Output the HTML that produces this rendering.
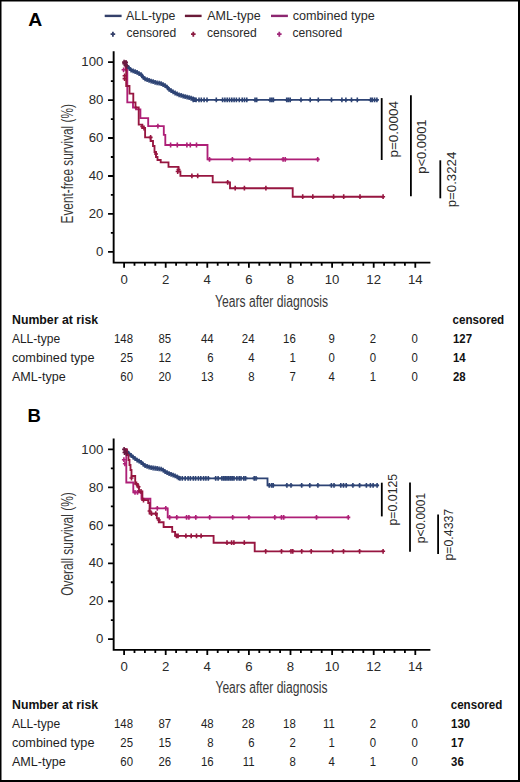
<!DOCTYPE html>
<html><head><meta charset="utf-8"><style>
html,body{margin:0;padding:0;background:#fff;}
body{width:520px;height:782px;overflow:hidden;font-family:"Liberation Sans", sans-serif;}
svg{display:block;}
</style></head><body>
<svg width="520" height="782" viewBox="0 0 520 782" font-family='"Liberation Sans", sans-serif'>
<rect x="0" y="0" width="520" height="782" fill="#fff"/>
<text x="28.2" y="26.4" font-size="18.5" font-weight="bold" fill="#000" textLength="14" lengthAdjust="spacingAndGlyphs">A</text>
<text x="27.6" y="421.9" font-size="18.5" font-weight="bold" fill="#000">B</text>
<path d="M104.7 15.9H121.6" stroke="#34406a" stroke-width="2.4"/>
<path d="M184.9 15.9H201.6" stroke="#6a1a38" stroke-width="2.4"/>
<path d="M271 15.9H287.9" stroke="#8c2670" stroke-width="2.4"/>
<text x="126.1" y="19.5" font-size="12.19" textLength="49.3" lengthAdjust="spacingAndGlyphs" fill="#2a2a2a">ALL-type</text>
<text x="207.2" y="19.5" font-size="12.19" textLength="53.4" lengthAdjust="spacingAndGlyphs" fill="#2a2a2a">AML-type</text>
<text x="292.8" y="19.5" font-size="12.19" textLength="82" lengthAdjust="spacingAndGlyphs" fill="#2a2a2a">combined type</text>
<text x="126.5" y="37.3" font-size="12.42" textLength="49.8" lengthAdjust="spacingAndGlyphs" fill="#2a2a2a">censored</text>
<text x="207" y="37.3" font-size="12.42" textLength="49.8" lengthAdjust="spacingAndGlyphs" fill="#2a2a2a">censored</text>
<text x="292.5" y="37.3" font-size="12.42" textLength="49.8" lengthAdjust="spacingAndGlyphs" fill="#2a2a2a">censored</text>
<path d="M112.9 31.7v5M110.6 34.2h4.6" stroke="#34406a" stroke-width="1.8" fill="none"/>
<path d="M193.3 31.7v5M191 34.2h4.6" stroke="#8a1a40" stroke-width="1.8" fill="none"/>
<path d="M279.3 31.7v5M277 34.2h4.6" stroke="#a0287a" stroke-width="1.8" fill="none"/>
<path d="M113.65 51.2V262.6H430.4" stroke="#000" stroke-width="1.9" fill="none" stroke-linejoin="miter"/>
<path d="M108.05 251.9h5.6M110.85 232.92h2.8M108.05 213.94h5.6M110.85 194.96h2.8M108.05 175.98h5.6M110.85 157h2.8M108.05 138.02h5.6M110.85 119.04h2.8M108.05 100.06h5.6M110.85 81.08h2.8M108.05 62.1h5.6M124.1 262.6v5.1M134.5 262.6v3.1M144.9 262.6v3.1M155.3 262.6v3.1M165.7 262.6v5.1M176.1 262.6v3.1M186.5 262.6v3.1M196.9 262.6v3.1M207.3 262.6v5.1M217.7 262.6v3.1M228.1 262.6v3.1M238.5 262.6v3.1M248.9 262.6v5.1M259.3 262.6v3.1M269.7 262.6v3.1M280.1 262.6v3.1M290.5 262.6v5.1M300.9 262.6v3.1M311.3 262.6v3.1M321.7 262.6v3.1M332.1 262.6v5.1M342.5 262.6v3.1M352.9 262.6v3.1M363.3 262.6v3.1M373.7 262.6v5.1M384.1 262.6v3.1M394.5 262.6v3.1M404.9 262.6v3.1M415.3 262.6v5.1" stroke="#000" stroke-width="1.8" fill="none"/>
<text x="103.4" y="256.1" font-size="12" text-anchor="end" textLength="7.34" lengthAdjust="spacingAndGlyphs" fill="#2a2a2a">0</text>
<text x="103.4" y="218.14" font-size="12" text-anchor="end" textLength="14.68" lengthAdjust="spacingAndGlyphs" fill="#2a2a2a">20</text>
<text x="103.4" y="180.18" font-size="12" text-anchor="end" textLength="14.68" lengthAdjust="spacingAndGlyphs" fill="#2a2a2a">40</text>
<text x="103.4" y="142.22" font-size="12" text-anchor="end" textLength="14.68" lengthAdjust="spacingAndGlyphs" fill="#2a2a2a">60</text>
<text x="103.4" y="104.26" font-size="12" text-anchor="end" textLength="14.68" lengthAdjust="spacingAndGlyphs" fill="#2a2a2a">80</text>
<text x="103.4" y="66.3" font-size="12" text-anchor="end" textLength="22.02" lengthAdjust="spacingAndGlyphs" fill="#2a2a2a">100</text>
<text x="124.1" y="283.6" font-size="12" text-anchor="middle" textLength="7.34" lengthAdjust="spacingAndGlyphs" fill="#2a2a2a">0</text>
<text x="165.7" y="283.6" font-size="12" text-anchor="middle" textLength="7.34" lengthAdjust="spacingAndGlyphs" fill="#2a2a2a">2</text>
<text x="207.3" y="283.6" font-size="12" text-anchor="middle" textLength="7.34" lengthAdjust="spacingAndGlyphs" fill="#2a2a2a">4</text>
<text x="248.9" y="283.6" font-size="12" text-anchor="middle" textLength="7.34" lengthAdjust="spacingAndGlyphs" fill="#2a2a2a">6</text>
<text x="290.5" y="283.6" font-size="12" text-anchor="middle" textLength="7.34" lengthAdjust="spacingAndGlyphs" fill="#2a2a2a">8</text>
<text x="332.1" y="283.6" font-size="12" text-anchor="middle" textLength="14.68" lengthAdjust="spacingAndGlyphs" fill="#2a2a2a">10</text>
<text x="373.7" y="283.6" font-size="12" text-anchor="middle" textLength="14.68" lengthAdjust="spacingAndGlyphs" fill="#2a2a2a">12</text>
<text x="415.3" y="283.6" font-size="12" text-anchor="middle" textLength="14.68" lengthAdjust="spacingAndGlyphs" fill="#2a2a2a">14</text>
<path d="M113.65 438.5V649.9H430.4" stroke="#000" stroke-width="1.9" fill="none" stroke-linejoin="miter"/>
<path d="M108.05 639.2h5.6M110.85 620.22h2.8M108.05 601.24h5.6M110.85 582.26h2.8M108.05 563.28h5.6M110.85 544.3h2.8M108.05 525.32h5.6M110.85 506.34h2.8M108.05 487.36h5.6M110.85 468.38h2.8M108.05 449.4h5.6M124.1 649.9v5.1M134.5 649.9v3.1M144.9 649.9v3.1M155.3 649.9v3.1M165.7 649.9v5.1M176.1 649.9v3.1M186.5 649.9v3.1M196.9 649.9v3.1M207.3 649.9v5.1M217.7 649.9v3.1M228.1 649.9v3.1M238.5 649.9v3.1M248.9 649.9v5.1M259.3 649.9v3.1M269.7 649.9v3.1M280.1 649.9v3.1M290.5 649.9v5.1M300.9 649.9v3.1M311.3 649.9v3.1M321.7 649.9v3.1M332.1 649.9v5.1M342.5 649.9v3.1M352.9 649.9v3.1M363.3 649.9v3.1M373.7 649.9v5.1M384.1 649.9v3.1M394.5 649.9v3.1M404.9 649.9v3.1M415.3 649.9v5.1" stroke="#000" stroke-width="1.8" fill="none"/>
<text x="103.4" y="643.4" font-size="12" text-anchor="end" textLength="7.34" lengthAdjust="spacingAndGlyphs" fill="#2a2a2a">0</text>
<text x="103.4" y="605.44" font-size="12" text-anchor="end" textLength="14.68" lengthAdjust="spacingAndGlyphs" fill="#2a2a2a">20</text>
<text x="103.4" y="567.48" font-size="12" text-anchor="end" textLength="14.68" lengthAdjust="spacingAndGlyphs" fill="#2a2a2a">40</text>
<text x="103.4" y="529.52" font-size="12" text-anchor="end" textLength="14.68" lengthAdjust="spacingAndGlyphs" fill="#2a2a2a">60</text>
<text x="103.4" y="491.56" font-size="12" text-anchor="end" textLength="14.68" lengthAdjust="spacingAndGlyphs" fill="#2a2a2a">80</text>
<text x="103.4" y="453.6" font-size="12" text-anchor="end" textLength="22.02" lengthAdjust="spacingAndGlyphs" fill="#2a2a2a">100</text>
<text x="124.1" y="670.9" font-size="12" text-anchor="middle" textLength="7.34" lengthAdjust="spacingAndGlyphs" fill="#2a2a2a">0</text>
<text x="165.7" y="670.9" font-size="12" text-anchor="middle" textLength="7.34" lengthAdjust="spacingAndGlyphs" fill="#2a2a2a">2</text>
<text x="207.3" y="670.9" font-size="12" text-anchor="middle" textLength="7.34" lengthAdjust="spacingAndGlyphs" fill="#2a2a2a">4</text>
<text x="248.9" y="670.9" font-size="12" text-anchor="middle" textLength="7.34" lengthAdjust="spacingAndGlyphs" fill="#2a2a2a">6</text>
<text x="290.5" y="670.9" font-size="12" text-anchor="middle" textLength="7.34" lengthAdjust="spacingAndGlyphs" fill="#2a2a2a">8</text>
<text x="332.1" y="670.9" font-size="12" text-anchor="middle" textLength="14.68" lengthAdjust="spacingAndGlyphs" fill="#2a2a2a">10</text>
<text x="373.7" y="670.9" font-size="12" text-anchor="middle" textLength="14.68" lengthAdjust="spacingAndGlyphs" fill="#2a2a2a">12</text>
<text x="415.3" y="670.9" font-size="12" text-anchor="middle" textLength="14.68" lengthAdjust="spacingAndGlyphs" fill="#2a2a2a">14</text>
<text transform="translate(72.6 163.8) rotate(-90)" x="0" y="0" font-size="16" text-anchor="middle" textLength="119.3" lengthAdjust="spacingAndGlyphs" fill="#383838">Event-free survival (%)</text>
<text transform="translate(73.3 544) rotate(-90)" x="0" y="0" font-size="16" text-anchor="middle" textLength="103.7" lengthAdjust="spacingAndGlyphs" fill="#383838">Overall survival (%)</text>
<text x="215" y="306.5" font-size="16" textLength="113" lengthAdjust="spacingAndGlyphs" fill="#383838">Years after diagnosis</text>
<text x="215.5" y="693" font-size="16" textLength="112" lengthAdjust="spacingAndGlyphs" fill="#383838">Years after diagnosis</text>
<text x="12" y="323.8" font-size="12.54" font-weight="bold" textLength="86.2" lengthAdjust="spacingAndGlyphs" fill="#111">Number at risk</text>
<text x="452.6" y="323.8" font-size="12.54" font-weight="bold" textLength="51.6" lengthAdjust="spacingAndGlyphs" fill="#111">censored</text>
<text x="11.9" y="342.9" font-size="12.42" textLength="48.2" lengthAdjust="spacingAndGlyphs" fill="#1e1e1e">ALL-type</text>
<text x="133" y="342.9" font-size="12.54" text-anchor="end" textLength="19.02" lengthAdjust="spacingAndGlyphs" fill="#1e1e1e">148</text>
<text x="171.2" y="342.9" font-size="12.54" text-anchor="end" textLength="12.68" lengthAdjust="spacingAndGlyphs" fill="#1e1e1e">85</text>
<text x="213.7" y="342.9" font-size="12.54" text-anchor="end" textLength="12.68" lengthAdjust="spacingAndGlyphs" fill="#1e1e1e">44</text>
<text x="254.5" y="342.9" font-size="12.54" text-anchor="end" textLength="12.68" lengthAdjust="spacingAndGlyphs" fill="#1e1e1e">24</text>
<text x="295.8" y="342.9" font-size="12.54" text-anchor="end" textLength="12.68" lengthAdjust="spacingAndGlyphs" fill="#1e1e1e">16</text>
<text x="334.8" y="342.9" font-size="12.54" text-anchor="end" textLength="6.34" lengthAdjust="spacingAndGlyphs" fill="#1e1e1e">9</text>
<text x="376" y="342.9" font-size="12.54" text-anchor="end" textLength="6.34" lengthAdjust="spacingAndGlyphs" fill="#1e1e1e">2</text>
<text x="417.8" y="342.9" font-size="12.54" text-anchor="end" textLength="6.34" lengthAdjust="spacingAndGlyphs" fill="#1e1e1e">0</text>
<text x="453" y="342.9" font-size="12.54" font-weight="bold" textLength="19.02" lengthAdjust="spacingAndGlyphs" fill="#111">127</text>
<text x="11.9" y="362.4" font-size="12.42" textLength="82.6" lengthAdjust="spacingAndGlyphs" fill="#1e1e1e">combined type</text>
<text x="133" y="362.4" font-size="12.54" text-anchor="end" textLength="12.68" lengthAdjust="spacingAndGlyphs" fill="#1e1e1e">25</text>
<text x="171.2" y="362.4" font-size="12.54" text-anchor="end" textLength="12.68" lengthAdjust="spacingAndGlyphs" fill="#1e1e1e">12</text>
<text x="213.7" y="362.4" font-size="12.54" text-anchor="end" textLength="6.34" lengthAdjust="spacingAndGlyphs" fill="#1e1e1e">6</text>
<text x="254.5" y="362.4" font-size="12.54" text-anchor="end" textLength="6.34" lengthAdjust="spacingAndGlyphs" fill="#1e1e1e">4</text>
<text x="295.8" y="362.4" font-size="12.54" text-anchor="end" textLength="6.34" lengthAdjust="spacingAndGlyphs" fill="#1e1e1e">1</text>
<text x="334.8" y="362.4" font-size="12.54" text-anchor="end" textLength="6.34" lengthAdjust="spacingAndGlyphs" fill="#1e1e1e">0</text>
<text x="376" y="362.4" font-size="12.54" text-anchor="end" textLength="6.34" lengthAdjust="spacingAndGlyphs" fill="#1e1e1e">0</text>
<text x="417.8" y="362.4" font-size="12.54" text-anchor="end" textLength="6.34" lengthAdjust="spacingAndGlyphs" fill="#1e1e1e">0</text>
<text x="453" y="362.4" font-size="12.54" font-weight="bold" textLength="12.68" lengthAdjust="spacingAndGlyphs" fill="#111">14</text>
<text x="11.9" y="381.2" font-size="12.42" textLength="53.8" lengthAdjust="spacingAndGlyphs" fill="#1e1e1e">AML-type</text>
<text x="133" y="381.2" font-size="12.54" text-anchor="end" textLength="12.68" lengthAdjust="spacingAndGlyphs" fill="#1e1e1e">60</text>
<text x="171.2" y="381.2" font-size="12.54" text-anchor="end" textLength="12.68" lengthAdjust="spacingAndGlyphs" fill="#1e1e1e">20</text>
<text x="213.7" y="381.2" font-size="12.54" text-anchor="end" textLength="12.68" lengthAdjust="spacingAndGlyphs" fill="#1e1e1e">13</text>
<text x="254.5" y="381.2" font-size="12.54" text-anchor="end" textLength="6.34" lengthAdjust="spacingAndGlyphs" fill="#1e1e1e">8</text>
<text x="295.8" y="381.2" font-size="12.54" text-anchor="end" textLength="6.34" lengthAdjust="spacingAndGlyphs" fill="#1e1e1e">7</text>
<text x="334.8" y="381.2" font-size="12.54" text-anchor="end" textLength="6.34" lengthAdjust="spacingAndGlyphs" fill="#1e1e1e">4</text>
<text x="376" y="381.2" font-size="12.54" text-anchor="end" textLength="6.34" lengthAdjust="spacingAndGlyphs" fill="#1e1e1e">1</text>
<text x="417.8" y="381.2" font-size="12.54" text-anchor="end" textLength="6.34" lengthAdjust="spacingAndGlyphs" fill="#1e1e1e">0</text>
<text x="453" y="381.2" font-size="12.54" font-weight="bold" textLength="12.68" lengthAdjust="spacingAndGlyphs" fill="#111">28</text>
<text x="12" y="708.8" font-size="12.54" font-weight="bold" textLength="86.2" lengthAdjust="spacingAndGlyphs" fill="#111">Number at risk</text>
<text x="450.7" y="708.8" font-size="12.54" font-weight="bold" textLength="51.6" lengthAdjust="spacingAndGlyphs" fill="#111">censored</text>
<text x="11.9" y="727.9" font-size="12.42" textLength="48.2" lengthAdjust="spacingAndGlyphs" fill="#1e1e1e">ALL-type</text>
<text x="133" y="727.9" font-size="12.54" text-anchor="end" textLength="19.02" lengthAdjust="spacingAndGlyphs" fill="#1e1e1e">148</text>
<text x="171.2" y="727.9" font-size="12.54" text-anchor="end" textLength="12.68" lengthAdjust="spacingAndGlyphs" fill="#1e1e1e">87</text>
<text x="213.7" y="727.9" font-size="12.54" text-anchor="end" textLength="12.68" lengthAdjust="spacingAndGlyphs" fill="#1e1e1e">48</text>
<text x="254.5" y="727.9" font-size="12.54" text-anchor="end" textLength="12.68" lengthAdjust="spacingAndGlyphs" fill="#1e1e1e">28</text>
<text x="295.8" y="727.9" font-size="12.54" text-anchor="end" textLength="12.68" lengthAdjust="spacingAndGlyphs" fill="#1e1e1e">18</text>
<text x="334.8" y="727.9" font-size="12.54" text-anchor="end" textLength="11.83" lengthAdjust="spacingAndGlyphs" fill="#1e1e1e">11</text>
<text x="376" y="727.9" font-size="12.54" text-anchor="end" textLength="6.34" lengthAdjust="spacingAndGlyphs" fill="#1e1e1e">2</text>
<text x="417.8" y="727.9" font-size="12.54" text-anchor="end" textLength="6.34" lengthAdjust="spacingAndGlyphs" fill="#1e1e1e">0</text>
<text x="451.1" y="727.9" font-size="12.54" font-weight="bold" textLength="19.02" lengthAdjust="spacingAndGlyphs" fill="#111">130</text>
<text x="11.9" y="747.4" font-size="12.42" textLength="82.6" lengthAdjust="spacingAndGlyphs" fill="#1e1e1e">combined type</text>
<text x="133" y="747.4" font-size="12.54" text-anchor="end" textLength="12.68" lengthAdjust="spacingAndGlyphs" fill="#1e1e1e">25</text>
<text x="171.2" y="747.4" font-size="12.54" text-anchor="end" textLength="12.68" lengthAdjust="spacingAndGlyphs" fill="#1e1e1e">15</text>
<text x="213.7" y="747.4" font-size="12.54" text-anchor="end" textLength="6.34" lengthAdjust="spacingAndGlyphs" fill="#1e1e1e">8</text>
<text x="254.5" y="747.4" font-size="12.54" text-anchor="end" textLength="6.34" lengthAdjust="spacingAndGlyphs" fill="#1e1e1e">6</text>
<text x="295.8" y="747.4" font-size="12.54" text-anchor="end" textLength="6.34" lengthAdjust="spacingAndGlyphs" fill="#1e1e1e">2</text>
<text x="334.8" y="747.4" font-size="12.54" text-anchor="end" textLength="6.34" lengthAdjust="spacingAndGlyphs" fill="#1e1e1e">1</text>
<text x="376" y="747.4" font-size="12.54" text-anchor="end" textLength="6.34" lengthAdjust="spacingAndGlyphs" fill="#1e1e1e">0</text>
<text x="417.8" y="747.4" font-size="12.54" text-anchor="end" textLength="6.34" lengthAdjust="spacingAndGlyphs" fill="#1e1e1e">0</text>
<text x="451.1" y="747.4" font-size="12.54" font-weight="bold" textLength="12.68" lengthAdjust="spacingAndGlyphs" fill="#111">17</text>
<text x="11.9" y="766.2" font-size="12.42" textLength="53.8" lengthAdjust="spacingAndGlyphs" fill="#1e1e1e">AML-type</text>
<text x="133" y="766.2" font-size="12.54" text-anchor="end" textLength="12.68" lengthAdjust="spacingAndGlyphs" fill="#1e1e1e">60</text>
<text x="171.2" y="766.2" font-size="12.54" text-anchor="end" textLength="12.68" lengthAdjust="spacingAndGlyphs" fill="#1e1e1e">26</text>
<text x="213.7" y="766.2" font-size="12.54" text-anchor="end" textLength="12.68" lengthAdjust="spacingAndGlyphs" fill="#1e1e1e">16</text>
<text x="254.5" y="766.2" font-size="12.54" text-anchor="end" textLength="11.83" lengthAdjust="spacingAndGlyphs" fill="#1e1e1e">11</text>
<text x="295.8" y="766.2" font-size="12.54" text-anchor="end" textLength="6.34" lengthAdjust="spacingAndGlyphs" fill="#1e1e1e">8</text>
<text x="334.8" y="766.2" font-size="12.54" text-anchor="end" textLength="6.34" lengthAdjust="spacingAndGlyphs" fill="#1e1e1e">4</text>
<text x="376" y="766.2" font-size="12.54" text-anchor="end" textLength="6.34" lengthAdjust="spacingAndGlyphs" fill="#1e1e1e">1</text>
<text x="417.8" y="766.2" font-size="12.54" text-anchor="end" textLength="6.34" lengthAdjust="spacingAndGlyphs" fill="#1e1e1e">0</text>
<text x="451.1" y="766.2" font-size="12.54" font-weight="bold" textLength="12.68" lengthAdjust="spacingAndGlyphs" fill="#111">36</text>
<path d="M381.7 98.1V160" stroke="#000" stroke-width="1.8"/>
<path d="M410.9 95.3V196.2" stroke="#000" stroke-width="1.8"/>
<path d="M440.3 160.3V198.3" stroke="#000" stroke-width="1.8"/>
<text transform="translate(397.6 129.3) rotate(-90)" x="0" y="0" font-size="12.5" text-anchor="middle" textLength="56.3" lengthAdjust="spacingAndGlyphs" fill="#2a2a2a">p=0.0004</text>
<text transform="translate(426.1 146.6) rotate(-90)" x="0" y="0" font-size="12.5" text-anchor="middle" textLength="54.2" lengthAdjust="spacingAndGlyphs" fill="#2a2a2a">p&lt;0.0001</text>
<text transform="translate(455.5 179.5) rotate(-90)" x="0" y="0" font-size="12.5" text-anchor="middle" textLength="55.5" lengthAdjust="spacingAndGlyphs" fill="#2a2a2a">p=0.3224</text>
<path d="M381.8 482.7V516.4" stroke="#000" stroke-width="1.8"/>
<path d="M410 482.5V551.8" stroke="#000" stroke-width="1.8"/>
<path d="M438.1 514.6V554.1" stroke="#000" stroke-width="1.8"/>
<text transform="translate(397.1 499.7) rotate(-90)" x="0" y="0" font-size="12.5" text-anchor="middle" textLength="51.8" lengthAdjust="spacingAndGlyphs" fill="#2a2a2a">p=0.0125</text>
<text transform="translate(424.9 518.1) rotate(-90)" x="0" y="0" font-size="12.5" text-anchor="middle" textLength="50.3" lengthAdjust="spacingAndGlyphs" fill="#2a2a2a">p&lt;0.0001</text>
<text transform="translate(453.4 534.7) rotate(-90)" x="0" y="0" font-size="12.5" text-anchor="middle" textLength="51.8" lengthAdjust="spacingAndGlyphs" fill="#2a2a2a">p=0.4337</text>
<path d="M124.1 62.1H126.1V66.1H128.1V68.1H130.1V70.04H132.1V70.83H134.1V71.63H136.1V72.46H138.1V73.55H140.1V74.64H142.1V77.22H144.1V78.94H146.1V79.67H148.1V80.35H150.1V81.03H152.1V81.67H154.1V82.31H156.1V82.82H158.1V83.22H160.1V83.65H162.1V84.61H164.1V85.57H166.1V87.21H168.1V89.36H170.1V90.64H172.1V91.92H174.1V93.01H176.1V93.93H178.1V94.83H180.1V95.43H182.1V96.03H184.1V96.59H186.1V97.11H188.1V97.63H190.1V98.23H192.1V98.83H194.1V99.53H195V99.85H378" stroke="#2d4374" stroke-width="1.85" fill="none" stroke-linejoin="miter" stroke-linecap="butt"/>
<path d="M127.1 63.7v4.8M125.1 66.1h4M129.1 65.7v4.8M127.1 68.1h4M131.1 67.64v4.8M129.1 70.04h4M133.1 68.43v4.8M131.1 70.83h4M135.1 69.23v4.8M133.1 71.63h4M137.1 70.06v4.8M135.1 72.46h4M139.1 71.15v4.8M137.1 73.55h4M141.1 72.24v4.8M139.1 74.64h4M143.1 74.82v4.8M141.1 77.22h4M145.1 76.54v4.8M143.1 78.94h4M147.1 77.27v4.8M145.1 79.67h4M149.1 77.95v4.8M147.1 80.35h4M151.1 78.63v4.8M149.1 81.03h4M153.1 79.27v4.8M151.1 81.67h4M155.1 79.91v4.8M153.1 82.31h4M157.1 80.42v4.8M155.1 82.82h4M159.1 80.82v4.8M157.1 83.22h4M161.1 81.25v4.8M159.1 83.65h4M163.1 82.21v4.8M161.1 84.61h4M165.1 83.17v4.8M163.1 85.57h4M167.1 84.81v4.8M165.1 87.21h4M169.1 86.96v4.8M167.1 89.36h4M171.1 88.24v4.8M169.1 90.64h4M173.1 89.52v4.8M171.1 91.92h4M175.1 90.61v4.8M173.1 93.01h4M177.1 91.53v4.8M175.1 93.93h4M179.1 92.43v4.8M177.1 94.83h4M181.1 93.03v4.8M179.1 95.43h4M183.1 93.63v4.8M181.1 96.03h4M185.1 94.19v4.8M183.1 96.59h4M187.1 94.71v4.8M185.1 97.11h4M189.1 95.23v4.8M187.1 97.63h4M191.1 95.83v4.8M189.1 98.23h4M193.1 96.43v4.8M191.1 98.83h4M194.55 97.13v4.8M192.55 99.53h4M193.2 97.45v4.8M191.2 99.85h4M196.1 97.45v4.8M194.1 99.85h4M199 97.45v4.8M197 99.85h4M201.3 97.45v4.8M199.3 99.85h4M204.1 97.45v4.8M202.1 99.85h4M207 97.45v4.8M205 99.85h4M216.3 97.45v4.8M214.3 99.85h4M222.6 97.45v4.8M220.6 99.85h4M224.9 97.45v4.8M222.9 99.85h4M227.2 97.45v4.8M225.2 99.85h4M229.5 97.45v4.8M227.5 99.85h4M231.8 97.45v4.8M229.8 99.85h4M234.1 97.45v4.8M232.1 99.85h4M236.4 97.45v4.8M234.4 99.85h4M239.3 97.45v4.8M237.3 99.85h4M242.2 97.45v4.8M240.2 99.85h4M244.5 97.45v4.8M242.5 99.85h4M246.8 97.45v4.8M244.8 99.85h4M255 97.45v4.8M253 99.85h4M256.7 97.45v4.8M254.7 99.85h4M270 97.45v4.8M268 99.85h4M271.7 97.45v4.8M269.7 99.85h4M273.4 97.45v4.8M271.4 99.85h4M286.7 97.45v4.8M284.7 99.85h4M288.4 97.45v4.8M286.4 99.85h4M290.2 97.45v4.8M288.2 99.85h4M301 97.45v4.8M299 99.85h4M310.2 97.45v4.8M308.2 99.85h4M318.3 97.45v4.8M316.3 99.85h4M331.5 97.45v4.8M329.5 99.85h4M341.9 97.45v4.8M339.9 99.85h4M345.9 97.45v4.8M343.9 99.85h4M351.5 97.45v4.8M349.5 99.85h4M357.3 97.45v4.8M355.3 99.85h4M370.6 97.45v4.8M368.6 99.85h4M372.3 97.45v4.8M370.3 99.85h4M374.6 97.45v4.8M372.6 99.85h4M376.9 97.45v4.8M374.9 99.85h4" stroke="#2d4374" stroke-width="1.6" fill="none"/>
<path d="M124.1 449.4H126.1V451.7H128.1V453.79H130.1V455.46H132.1V457.06H134.1V458.57H136.1V460.06H138.1V461.22H140.1V462.38H142.1V464.13H144.1V465.58H146.1V466.39H148.1V467.04H150.1V467.53H152.1V468.01H154.1V468.26H156.1V468.5H158.1V468.82H160.1V469.2H162.1V470.07H164.1V471.55H166.1V472.58H168.1V473.54H170.1V474.31H172.1V475.09H174.1V475.93H176.1V476.8H178.1V477.86H179V478.4H267.5V485.4H378.5" stroke="#2d4374" stroke-width="1.85" fill="none" stroke-linejoin="miter" stroke-linecap="butt"/>
<path d="M127.1 449.3v4.8M125.1 451.7h4M129.1 451.39v4.8M127.1 453.79h4M131.1 453.06v4.8M129.1 455.46h4M133.1 454.66v4.8M131.1 457.06h4M135.1 456.17v4.8M133.1 458.57h4M137.1 457.66v4.8M135.1 460.06h4M139.1 458.82v4.8M137.1 461.22h4M141.1 459.98v4.8M139.1 462.38h4M143.1 461.73v4.8M141.1 464.13h4M145.1 463.18v4.8M143.1 465.58h4M147.1 463.99v4.8M145.1 466.39h4M149.1 464.64v4.8M147.1 467.04h4M151.1 465.13v4.8M149.1 467.53h4M153.1 465.61v4.8M151.1 468.01h4M155.1 465.86v4.8M153.1 468.26h4M157.1 466.1v4.8M155.1 468.5h4M159.1 466.42v4.8M157.1 468.82h4M161.1 466.8v4.8M159.1 469.2h4M163.1 467.67v4.8M161.1 470.07h4M165.1 469.15v4.8M163.1 471.55h4M167.1 470.18v4.8M165.1 472.58h4M169.1 471.14v4.8M167.1 473.54h4M171.1 471.91v4.8M169.1 474.31h4M173.1 472.69v4.8M171.1 475.09h4M175.1 473.53v4.8M173.1 475.93h4M177.1 474.4v4.8M175.1 476.8h4M178.55 475.46v4.8M176.55 477.86h4M180 476v4.8M178 478.4h4M182.3 476v4.8M180.3 478.4h4M185.2 476v4.8M183.2 478.4h4M188.1 476v4.8M186.1 478.4h4M190.4 476v4.8M188.4 478.4h4M193.3 476v4.8M191.3 478.4h4M195.6 476v4.8M193.6 478.4h4M198.4 476v4.8M196.4 478.4h4M200.8 476v4.8M198.8 478.4h4M203.6 476v4.8M201.6 478.4h4M205.9 476v4.8M203.9 478.4h4M208.3 476v4.8M206.3 478.4h4M215.7 476v4.8M213.7 478.4h4M218.1 476v4.8M216.1 478.4h4M221.9 476v4.8M219.9 478.4h4M223.7 476v4.8M221.7 478.4h4M225.4 476v4.8M223.4 478.4h4M227.1 476v4.8M225.1 478.4h4M228.8 476v4.8M226.8 478.4h4M230.6 476v4.8M228.6 478.4h4M232.3 476v4.8M230.3 478.4h4M234 476v4.8M232 478.4h4M236.9 476v4.8M234.9 478.4h4M239.2 476v4.8M237.2 478.4h4M241 476v4.8M239 478.4h4M243.8 476v4.8M241.8 478.4h4M245.6 476v4.8M243.6 478.4h4M254.2 476v4.8M252.2 478.4h4M256 476v4.8M254 478.4h4M269.2 483v4.8M267.2 485.4h4M271.5 483v4.8M269.5 485.4h4M273.2 483v4.8M271.2 485.4h4M286.9 483v4.8M284.9 485.4h4M291 483v4.8M289 485.4h4M301.7 483v4.8M299.7 485.4h4M309.8 483v4.8M307.8 485.4h4M317.9 483v4.8M315.9 485.4h4M331.4 483v4.8M329.4 485.4h4M334 483v4.8M332 485.4h4M340.8 483v4.8M338.8 485.4h4M343.5 483v4.8M341.5 485.4h4M346.2 483v4.8M344.2 485.4h4M352.9 483v4.8M350.9 485.4h4M359.6 483v4.8M357.6 485.4h4M366.4 483v4.8M364.4 485.4h4M370.4 483v4.8M368.4 485.4h4M373.1 483v4.8M371.1 485.4h4M377.1 483v4.8M375.1 485.4h4" stroke="#2d4374" stroke-width="1.6" fill="none"/>
<path d="M124.1 62.1H125.6V69.8H127.3V102.3H133V107.5H136V109.3H140.4V118.1H148.2V126.1H163.8V134.8H165.3V145H207.5V159.4H319" stroke="#ae1f77" stroke-width="1.85" fill="none" stroke-linejoin="miter" stroke-linecap="butt"/>
<path d="M123.6 67.4v4.8M121.6 69.8h4M157.9 123.7v4.8M155.9 126.1h4M170.6 142.6v4.8M168.6 145h4M177.3 142.6v4.8M175.3 145h4M186.9 142.6v4.8M184.9 145h4M190.3 142.6v4.8M188.3 145h4M196.5 142.6v4.8M194.5 145h4M209.5 157v4.8M207.5 159.4h4M232.4 157v4.8M230.4 159.4h4M249.7 157v4.8M247.7 159.4h4M283.1 157v4.8M281.1 159.4h4M285.2 157v4.8M283.2 159.4h4M317.7 157v4.8M315.7 159.4h4" stroke="#ae1f77" stroke-width="1.6" fill="none"/>
<path d="M124.1 449.4H126.3V482.5H133.3V492.4H141.5V498.7H150.4V508.3H167.7V517.4H348.3" stroke="#ae1f77" stroke-width="1.85" fill="none" stroke-linejoin="miter" stroke-linecap="butt"/>
<path d="M123.9 457.3v4.8M121.9 459.7h4M124.9 461.4v4.8M122.9 463.8h4M135 490v4.8M133 492.4h4M137.5 490v4.8M135.5 492.4h4M157.3 505.9v4.8M155.3 508.3h4M165.8 505.9v4.8M163.8 508.3h4M169.6 515v4.8M167.6 517.4h4M176.8 515v4.8M174.8 517.4h4M186.6 515v4.8M184.6 517.4h4M188.9 515v4.8M186.9 517.4h4M195.8 515v4.8M193.8 517.4h4M209.7 515v4.8M207.7 517.4h4M232.7 515v4.8M230.7 517.4h4M248.9 515v4.8M246.9 517.4h4M274.8 515v4.8M272.8 517.4h4M281.5 515v4.8M279.5 517.4h4M283.7 515v4.8M281.7 517.4h4M316.5 515v4.8M314.5 517.4h4M348.3 515v4.8M346.3 517.4h4" stroke="#ae1f77" stroke-width="1.6" fill="none"/>
<path d="M124.1 62.1H126.2V86H129.5V93.6H133.3V102.3H135.5V107.5H138.7V124.6H142.3V128H145.1V137.4H150.6V141H153V146H154.5V152H156V157H157.5V160H160.7V162.3H168.5V166.9H178.5V171.5H180.4V175.8H212.7V182.4H230V188.2H292.7V196.7H383.3" stroke="#971640" stroke-width="1.85" fill="none" stroke-linejoin="miter" stroke-linecap="butt"/>
<path d="M124.6 73.4v4.8M122.6 75.8h4M124.6 76.2v4.8M122.6 78.6h4M142.3 124.1v4.8M140.3 126.5h4M144 125.6v4.8M142 128h4M150.6 135v4.8M148.6 137.4h4M156 151.6v4.8M154 154h4M177.7 169.1v4.8M175.7 171.5h4M178.5 167.1v4.8M176.5 169.5h4M191.9 173.4v4.8M189.9 175.8h4M197.7 173.4v4.8M195.7 175.8h4M227.7 180v4.8M225.7 182.4h4M235.2 185.8v4.8M233.2 188.2h4M244.4 185.8v4.8M242.4 188.2h4M265.9 185.8v4.8M263.9 188.2h4M302.7 194.3v4.8M300.7 196.7h4M312.8 194.3v4.8M310.8 196.7h4M333.6 194.3v4.8M331.6 196.7h4M343.7 194.3v4.8M341.7 196.7h4M360 194.3v4.8M358 196.7h4M383.1 194.3v4.8M381.1 196.7h4" stroke="#971640" stroke-width="1.6" fill="none"/>
<path d="M124.1 449.4H127V455H128.5V460H129.5V465H130.5V470H131.5V476H135.2V483.8H137.6V486.7H139V491.5H142.4V500.1H148.2V503H149.6V513.6H156.8V518.4H158.8V522.2H163.6V527H172.2V531.8H175.1V535.9H213.6V542.7H254.7V551.3H383.3" stroke="#971640" stroke-width="1.85" fill="none" stroke-linejoin="miter" stroke-linecap="butt"/>
<path d="M131.5 475.6v4.8M129.5 478h4M136.5 481.4v4.8M134.5 483.8h4M138.5 484.3v4.8M136.5 486.7h4M141 489.1v4.8M139 491.5h4M143.5 497.7v4.8M141.5 500.1h4M149.6 508.6v4.8M147.6 511h4M151.5 511.2v4.8M149.5 513.6h4M155.8 511.2v4.8M153.8 513.6h4M158.8 517.6v4.8M156.8 520h4M176.5 533.5v4.8M174.5 535.9h4M178.1 533.5v4.8M176.1 535.9h4M185.9 533.5v4.8M183.9 535.9h4M191.2 533.5v4.8M189.2 535.9h4M196.5 533.5v4.8M194.5 535.9h4M201.1 533.5v4.8M199.1 535.9h4M227 540.3v4.8M225 542.7h4M231.6 540.3v4.8M229.6 542.7h4M233.9 540.3v4.8M231.9 542.7h4M244.3 540.3v4.8M242.3 542.7h4M265.7 548.9v4.8M263.7 551.3h4M281.5 548.9v4.8M279.5 551.3h4M291 548.9v4.8M289 551.3h4M292.8 548.9v4.8M290.8 551.3h4M301.7 548.9v4.8M299.7 551.3h4M311.2 548.9v4.8M309.2 551.3h4M332.7 548.9v4.8M330.7 551.3h4M343.5 548.9v4.8M341.5 551.3h4M359.6 548.9v4.8M357.6 551.3h4M383.1 548.9v4.8M381.1 551.3h4" stroke="#971640" stroke-width="1.6" fill="none"/>
<path d="M124.1 59.7v4.8M122.1 62.1h4M125.5 61.6v4.8M123.5 64h4M126.5 63.6v4.8M124.5 66h4M124.3 61.4v4.8M122.3 63.8h4M126 59.9v4.8M124 62.3h4" stroke="#6a1840" stroke-width="1.6" fill="none"/>
<path d="M124.1 447v4.8M122.1 449.4h4M125.5 449.1v4.8M123.5 451.5h4M126.5 451.1v4.8M124.5 453.5h4M124.5 450.1v4.8M122.5 452.5h4" stroke="#6a1840" stroke-width="1.6" fill="none"/>
<path d="M0.7 0.7H518.9V780.9H0.7Z" fill="none" stroke="#000" stroke-width="1.6"/>
<path d="M519 0V782M0 781H520" stroke="#000" stroke-width="2"/>
</svg>
</body></html>
